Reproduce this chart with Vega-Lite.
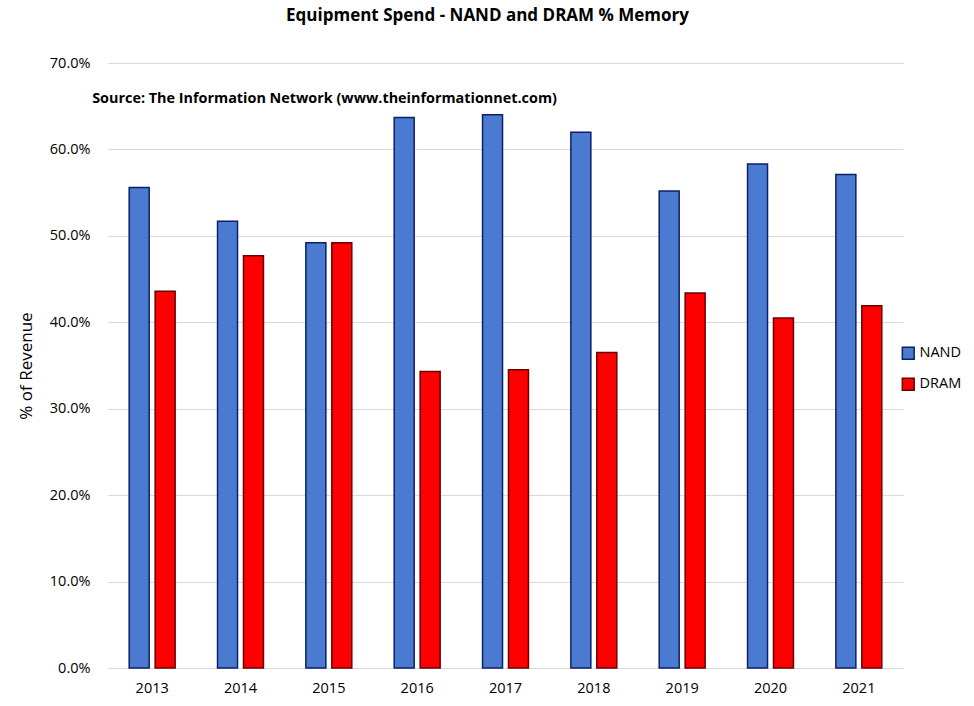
{
  "$schema": "https://vega.github.io/schema/vega-lite/v6.json",
  "autosize": {"type": "none"},
  "padding": {"left": 108, "top": 63, "right": 71, "bottom": 38},
  "width": 795,
  "height": 605,
  "background": "white",
  "config": {
    "font": "Open Sans",
    "view": {"stroke": null}
  },
  "title": {
    "text": "Equipment Spend - NAND and DRAM % Memory",
    "fontSize": 17,
    "fontWeight": "bold",
    "color": "#000000",
    "anchor": "middle",
    "dx": -18,
    "offset": 30
  },
  "layer": [
    {
      "data": {
        "values": [
          {"year": "2013", "type": "NAND", "share": 0.556},
          {"year": "2013", "type": "DRAM", "share": 0.436},
          {"year": "2014", "type": "NAND", "share": 0.517},
          {"year": "2014", "type": "DRAM", "share": 0.477},
          {"year": "2015", "type": "NAND", "share": 0.492},
          {"year": "2015", "type": "DRAM", "share": 0.492},
          {"year": "2016", "type": "NAND", "share": 0.637},
          {"year": "2016", "type": "DRAM", "share": 0.343},
          {"year": "2017", "type": "NAND", "share": 0.640},
          {"year": "2017", "type": "DRAM", "share": 0.345},
          {"year": "2018", "type": "NAND", "share": 0.620},
          {"year": "2018", "type": "DRAM", "share": 0.365},
          {"year": "2019", "type": "NAND", "share": 0.552},
          {"year": "2019", "type": "DRAM", "share": 0.434},
          {"year": "2020", "type": "NAND", "share": 0.583},
          {"year": "2020", "type": "DRAM", "share": 0.405},
          {"year": "2021", "type": "NAND", "share": 0.571},
          {"year": "2021", "type": "DRAM", "share": 0.419}
        ]
      },
      "mark": {"type": "bar", "strokeWidth": 1.5},
      "encoding": {
        "x": {
          "field": "year",
          "type": "nominal",
          "title": null,
          "scale": {"paddingInner": 0.48, "paddingOuter": 0.24},
          "axis": {
            "labelAngle": 0,
            "labelFontSize": 14.5,
            "labelColor": "#000000",
            "labelPadding": 13,
            "domain": false,
            "ticks": false
          }
        },
        "xOffset": {
          "field": "type",
          "type": "nominal",
          "sort": ["NAND", "DRAM"],
          "scale": {"paddingInner": 0.23}
        },
        "y": {
          "field": "share",
          "type": "quantitative",
          "title": "% of Revenue",
          "scale": {"domain": [0, 0.7]},
          "axis": {
            "format": ".1%",
            "values": [0, 0.1, 0.2, 0.3, 0.4, 0.5, 0.6, 0.7],
            "labelFontSize": 14.5,
            "labelColor": "#000000",
            "labelPadding": 18,
            "titleFontSize": 17,
            "titleFontWeight": "normal",
            "titleColor": "#000000",
            "titlePadding": 14,
            "domain": false,
            "ticks": false,
            "gridColor": "#d9d9d9",
            "gridWidth": 1.2
          }
        },
        "color": {
          "field": "type",
          "type": "nominal",
          "sort": ["NAND", "DRAM"],
          "scale": {"domain": ["NAND", "DRAM"], "range": ["#4a7bd1", "#ff0000"]},
          "legend": {
            "title": null,
            "orient": "none",
            "legendX": 793,
            "legendY": 283,
            "symbolType": "square",
            "symbolSize": 140,
            "symbolStrokeWidth": 1.5,
            "labelFontSize": 14.5,
            "labelColor": "#000000",
            "rowPadding": 12
          }
        },
        "stroke": {
          "field": "type",
          "type": "nominal",
          "sort": ["NAND", "DRAM"],
          "scale": {"domain": ["NAND", "DRAM"], "range": ["#0b1f6b", "#6a0000"]},
          "legend": null
        }
      }
    },
    {
      "data": {"values": [{"note": "Source: The Information Network (www.theinformationnet.com)"}]},
      "mark": {
        "type": "text",
        "align": "left",
        "baseline": "middle",
        "fontSize": 14.4,
        "fontWeight": "bold",
        "color": "#000000",
        "dx": -60
      },
      "encoding": {
        "x": {"datum": "2013"},
        "y": {"datum": 0.658},
        "text": {"field": "note"}
      }
    }
  ]
}
